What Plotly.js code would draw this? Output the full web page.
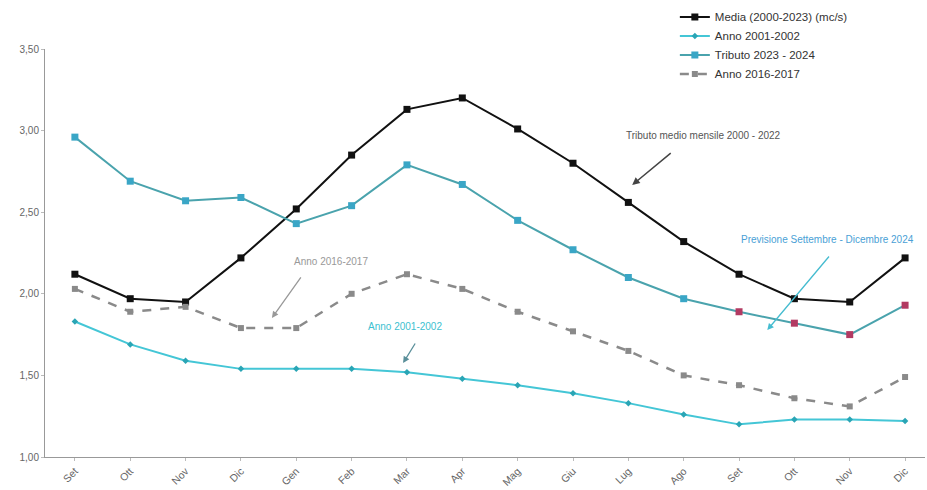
<!DOCTYPE html>
<html><head><meta charset="utf-8">
<script src="https://cdn.plot.ly/plotly-3.0.1.min.js"></script>
<style>html,body{margin:0;padding:0;background:#fff}#chart{width:927px;height:490px}</style>
</head><body><div id="chart"></div>
<script>
var months = ["Set","Ott","Nov","Dic","Gen","Feb","Mar","Apr","Mag","Giu","Lug","Ago","Set","Ott","Nov","Dic"];
var media = [2.12,1.97,1.95,2.22,2.52,2.85,3.13,3.20,3.01,2.80,2.56,2.32,2.12,1.97,1.95,2.22];
var anno2001 = [1.83,1.69,1.59,1.54,1.54,1.54,1.52,1.48,1.44,1.39,1.33,1.26,1.20,1.23,1.23,1.22];
var tributo = [2.96,2.69,2.57,2.59,2.43,2.54,2.79,2.67,2.45,2.27,2.10,1.97,1.89,1.82,1.75,1.93];
var anno2016 = [2.03,1.89,1.92,1.79,1.79,2.00,2.12,2.03,1.89,1.77,1.65,1.50,1.44,1.36,1.31,1.49];
var forecastFrom = 12;

var idx = months.map(function(_, i){ return i; });
var tribColors = tributo.map(function(_, i){ return i >= forecastFrom ? '#b23a62' : '#3aa6c6'; });

var traces = [
  {x: idx, y: media, name: 'Media (2000-2023) (mc/s)', mode: 'lines+markers',
   line: {color: '#111', width: 2}, marker: {symbol: 'square', size: 7, color: '#111'}},
  {x: idx, y: anno2001, name: 'Anno 2001-2002', mode: 'lines+markers',
   line: {color: '#44c6d6', width: 2}, marker: {symbol: 'diamond', size: 5, color: '#2aa5b5'}},
  {x: idx, y: tributo, name: 'Tributo 2023 - 2024', mode: 'lines+markers',
   line: {color: '#4aa3ad', width: 2}, marker: {symbol: 'square', size: 7, color: tribColors}},
  {x: idx, y: anno2016, name: 'Anno 2016-2017', mode: 'lines+markers',
   line: {color: '#8a8a8a', width: 2.5, dash: 'dash'}, marker: {symbol: 'square', size: 6, color: '#8a8a8a'}}
];

var layout = {
  width: 927, height: 490,
  margin: {l: 45, r: 2, t: 49, b: 33, autoexpand: false},
  paper_bgcolor: '#fff', plot_bgcolor: '#fff',
  separators: ',.',
  font: {family: 'Liberation Sans, Arial, sans-serif', size: 10, color: '#666'},
  showlegend: true,
  legend: {xref: 'container', yref: 'container', x: 0.728, y: 0.995, xanchor: 'left', yanchor: 'top',
           bgcolor: 'rgba(0,0,0,0)', font: {size: 11.5, color: '#333'}, tracegroupgap: 0, itemwidth: 30},
  xaxis: {range: [-0.54, 15.36], tickvals: idx, ticktext: months, tickangle: -45,
          showgrid: false, zeroline: false, showline: true, linecolor: '#999', linewidth: 1,
          ticks: 'outside', ticklen: 3, tickcolor: '#bbb', tickfont: {size: 10.5, color: '#666'}},
  yaxis: {range: [1, 3.5], dtick: 0.5, tickformat: '.2f', showgrid: false, zeroline: false,
          showline: true, linecolor: '#999', linewidth: 1, ticks: 'outside', ticklen: 3,
          tickcolor: '#bbb', tickfont: {size: 10, color: '#666'}},
  annotations: [
    {xref: 'x', yref: 'y', x: 10.07, y: 2.667, ax: 40, ay: -33, text: '', showarrow: true,
     arrowhead: 2, arrowsize: 1, arrowwidth: 1.5, arrowcolor: '#444'},
    {xref: 'x', yref: 'y', x: 11.35, y: 2.97, text: 'Tributo medio mensile 2000 - 2022', showarrow: false,
     font: {size: 10, color: '#555'}},
    {xref: 'x', yref: 'y', x: 12.51, y: 1.778, ax: 63, ay: -75, text: '', showarrow: true,
     arrowhead: 2, arrowsize: 1, arrowwidth: 1.3, arrowcolor: '#45bcd0'},
    {xref: 'x', yref: 'y', x: 13.6, y: 2.33, text: 'Previsione Settembre - Dicembre 2024', showarrow: false,
     font: {size: 10, color: '#4a9fd6'}},
    {xref: 'x', yref: 'y', x: 3.56, y: 1.852, ax: 30, ay: -42, text: '', showarrow: true,
     arrowhead: 2, arrowsize: 1, arrowwidth: 1.3, arrowcolor: '#999'},
    {xref: 'x', yref: 'y', x: 4.63, y: 2.2, text: 'Anno 2016-2017', showarrow: false,
     font: {size: 10, color: '#999'}},
    {xref: 'x', yref: 'y', x: 5.93, y: 1.576, ax: 13, ay: -21, text: '', showarrow: true,
     arrowhead: 2, arrowsize: 1, arrowwidth: 1.3, arrowcolor: '#5a8f9a'},
    {xref: 'x', yref: 'y', x: 5.96, y: 1.797, text: 'Anno 2001-2002', showarrow: false,
     font: {size: 10, color: '#3dbfd0'}}
  ]
};

Plotly.newPlot('chart', traces, layout, {displayModeBar: false, staticPlot: true});
</script></body></html>
